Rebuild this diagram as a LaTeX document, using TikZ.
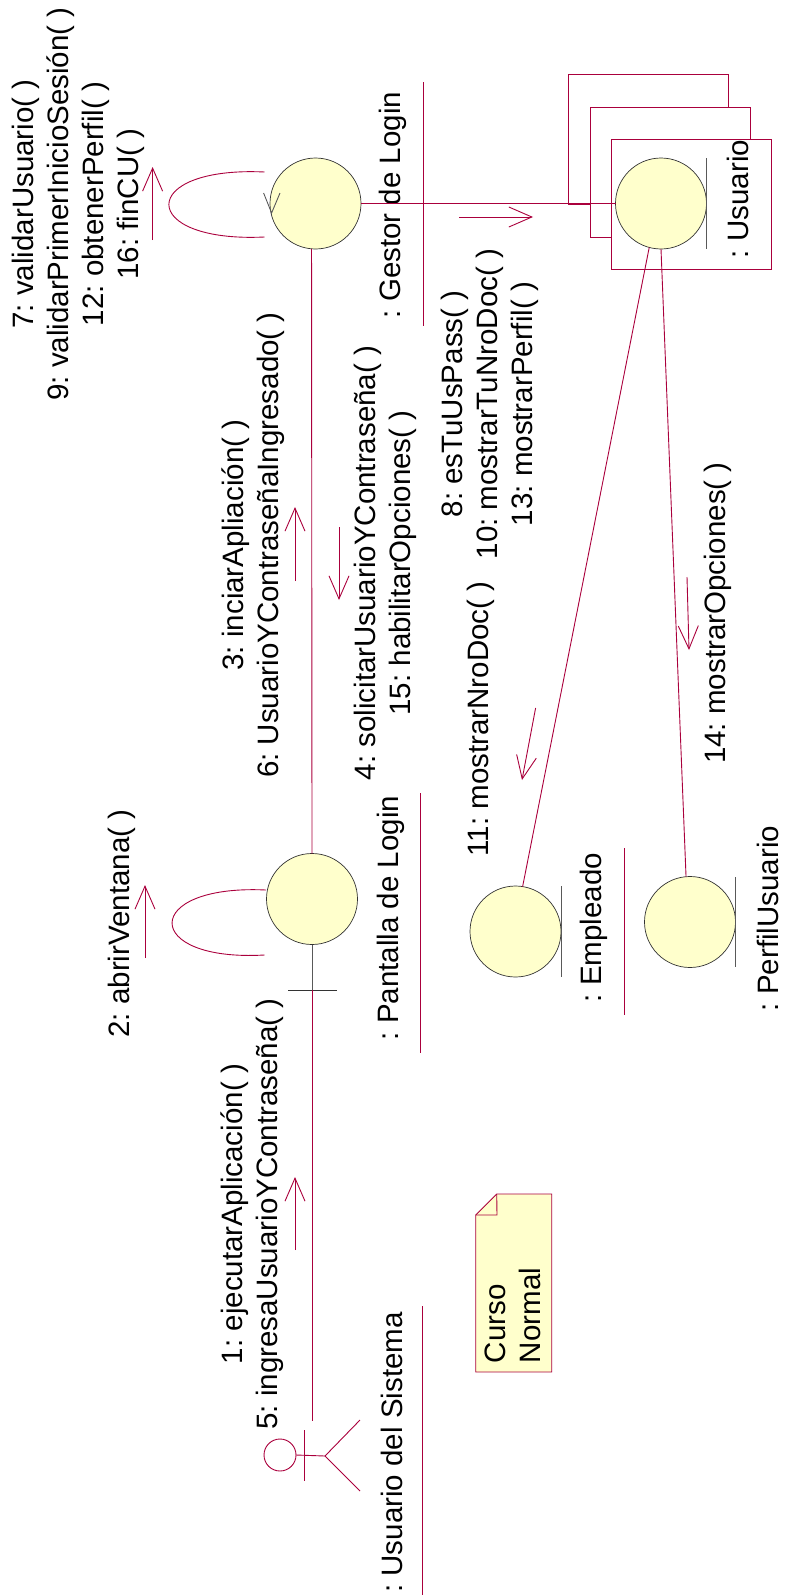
\documentclass[tikz,border=0pt]{standalone}
\usepackage{fontspec}
\setmainfont{Liberation Sans}
\usepackage{xcolor}
\usetikzlibrary{arrows.meta,positioning,calc}
\definecolor{col1}{RGB}{170,0,60}
\definecolor{col2}{RGB}{255,255,204}
\colorlet{c1}{col1}
\colorlet{c2}{col2}
\colorlet{c3}{black!65}
\frenchspacing

\begin{document}
\begin{tikzpicture}[x=1pt, y=-1pt, line width=0.9pt, every node/.style={inner sep=0pt, outer sep=0pt}]
\tikzstyle{obj}=[circle,fill=c2,draw=black!80,line width=0.7pt,minimum size=91pt]
\tikzstyle{msg}=[rotate=90,align=center,text=black,font=\fontsize{29.5}{35}\selectfont]
\tikzstyle{link}=[draw=c1]
\tikzstyle{flow}=[draw=c1,-{Straight Barb[length=23pt,width=20pt,line width=0.9pt]}]
\tikzstyle{uline}=[draw=c1]
\tikzstyle{stack}=[rectangle,draw=c1,fill=white,minimum width=160pt,minimum height=130pt]
\useasboundingbox (0,0) rectangle (787,1595);

% objects
\node[stack] (stackc) at (648.5,139) {};
\node[stack] (stackb) at (670.5,172) {};
\node[stack] (stacka) at (691,204) {};
\node[obj] (gestor)   at (315.5,203.5) {};
\node[obj] (usuario)  at (661,203.5) {};
\node[obj] (pantalla) at (312,899) {};
\node[obj] (empleado) at (515.5,931.5) {};
\node[obj] (perfil)   at (690,922) {};
\node[circle,draw=c1,minimum size=32pt] (actor) at (280,1455) {};

% names
\node[msg] (lgestor)   at (393,205) {: Gestor de Login};
\node[msg] (lusuario)  at (738,199) {: Usuario};
\node[msg] (lpantalla) at (390.5,918) {: Pantalla de Login};
\node[msg] (lempleado) at (594,927.5) {: Empleado};
\node[msg] (lperfil)   at (768,918.5) {: PerfilUsuario};
\node[msg] (lsistema)  at (391.5,1452.5) {: Usuario del Sistema};

% messages
\node[msg] (m7)  at (78,204) {7: validarUsuario( )\\9: validarPrimerInicioSesión( )\\12: obtenerPerfil( )\\16: finCU( )};
\node[msg] (m3)  at (253,545) {3: inciarApliación( )\\6: UsuarioYContraseñaIngresado( )};
\node[msg] (m4)  at (385,563) {4: solicitarUsuarioYContraseña( )\\15: habilitarOpciones( )};
\node[msg] (m8)  at (490,404) {8: esTuUsPass( )\\10: mostrarTuNroDoc( )\\13: mostrarPerfil( )};
\node[msg] (m11) at (481,719) {11: mostrarNroDoc( )};
\node[msg] (m14) at (717.5,613) {14: mostrarOpciones( )};
\node[msg] (m2)  at (122,923.5) {2: abrirVentana( )};
\node[msg] (m1)  at (252,1214) {1: ejecutarAplicación( )\\5: ingresaUsuarioYContraseña( )};

% underlines of the names
\coordinate (ug1) at (423,82);   \coordinate (ug2) at (423,326);
\coordinate (up1) at (420,793);  \coordinate (up2) at (420,1053);
\coordinate (ue1) at (624,848);  \coordinate (ue2) at (624,1015);
\coordinate (us1) at (422,1306); \coordinate (us2) at (422,1595);
\draw[uline] (ug1) -- (ug2);
\draw[uline] (up1) -- (up2);
\draw[uline] (ue1) -- (ue2);
\draw[uline] (us1) -- (us2);

% entity bars
\coordinate (bu1) at (706.5,158); \coordinate (bu2) at (706.5,249);
\coordinate (be1) at (561,886);   \coordinate (be2) at (561,977);
\coordinate (bp1) at (735.5,877); \coordinate (bp2) at (735.5,967);
\draw[draw=c3] (bu1) -- (bu2);
\draw[draw=c3] (be1) -- (be2);
\draw[draw=c3] (bp1) -- (bp2);

% links
\coordinate (cross) at (312,990);
\coordinate (crossl) at (288,990);
\coordinate (crossr) at (337,990);
\coordinate (actorend) at (312,1421);
\draw[link] (gestor) -- (usuario);
\draw[link] (gestor.265) -- (pantalla.north);
\draw[draw=c3] (pantalla.south) -- (cross);
\draw[draw=black!80] (crossl) -- (crossr);
\draw[link] (cross) -- (actorend);
\draw[link] (usuario.255) -- (empleado.81);
\draw[link] (usuario.south) -- (perfil.95);

% self loops
\coordinate (lg1) at (264.5,172); \coordinate (lg2) at (264.5,237);
\coordinate (lp1) at (266,890);   \coordinate (lp2) at (264.5,955);
\draw[link] (lg1) .. controls (137,166) and (137,243) .. (lg2);
\draw[link] (lp1) .. controls (141,884) and (141,962) .. (lp2);
\coordinate (va) at (263.6,193); \coordinate (vb) at (271.6,213); \coordinate (vc) at (280,193);
\draw[draw=c3] (va) -- (vb) -- (vc);

% message arrows
\coordinate (a7a) at (152.6,240);  \coordinate (a7b) at (152.6,167);
\coordinate (a8a) at (459,217);    \coordinate (a8b) at (533,217);
\coordinate (a3a) at (295,581);    \coordinate (a3b) at (295,507);
\coordinate (a4a) at (339,527);    \coordinate (a4b) at (339,600);
\coordinate (a11a) at (535.6,708); \coordinate (a11b) at (522,780);
\coordinate (a14a) at (687,577);   \coordinate (a14b) at (689,650);
\coordinate (a2a) at (145,958);    \coordinate (a2b) at (145,885);
\coordinate (a1a) at (295,1250);   \coordinate (a1b) at (295,1177);
\draw[flow] (a7a) -- (a7b);
\draw[flow] (a8a) -- (a8b);
\draw[flow] (a3a) -- (a3b);
\draw[flow] (a4a) -- (a4b);
\draw[flow] (a11a) -- (a11b);
\draw[flow] (a14a) -- (a14b);
\draw[flow] (a2a) -- (a2b);
\draw[flow] (a1a) -- (a1b);

% actor
\coordinate (hip) at (325,1456);
\coordinate (arm1) at (304,1430);
\coordinate (arm2) at (304,1481);
\coordinate (leg1) at (360,1420);
\coordinate (leg2) at (360,1491);
\draw[link] (actor.east) -- (hip);
\draw[link] (arm1) -- (arm2);
\draw[link] (leg1) -- (hip) -- (leg2);

% note
\coordinate (n1) at (496.7,1194);
\coordinate (n2) at (551.7,1194);
\coordinate (n3) at (551.7,1372);
\coordinate (n4) at (475.7,1372);
\coordinate (n5) at (475.7,1215);
\coordinate (n6) at (497,1215);
\draw[draw=c1,fill=c2] (n1) -- (n2) -- (n3) -- (n4) -- (n5) -- cycle;
\draw[draw=c1] (n1) -- (n6) -- (n5);
\node[rotate=90,align=left,anchor=west,text=black,font=\fontsize{29.5}{35}\selectfont] (lnote) at (513,1363) {Curso\\Normal};
\end{tikzpicture}
\end{document}
